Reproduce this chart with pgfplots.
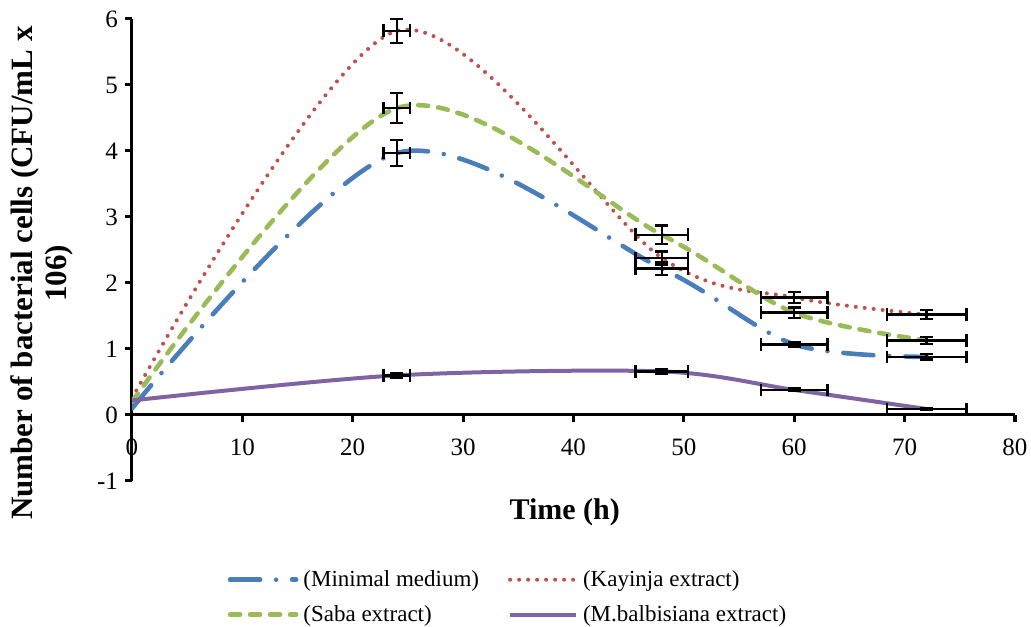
\documentclass[border=0pt]{standalone}
\usepackage{fontspec}
\setmainfont{Liberation Serif}
\usepackage{pgfplots}
\pgfplotsset{compat=1.18}

\definecolor{cblue}{RGB}{74,126,187}
\definecolor{cred}{RGB}{192,80,77}
\definecolor{cgreen}{RGB}{155,187,89}
\definecolor{cpurple}{RGB}{128,100,162}

\begin{document}
\begin{tikzpicture}
\begin{axis}[
  width=441.5pt, height=231pt, scale only axis,
  xmin=0, xmax=80, ymin=-1, ymax=6,
  axis x line=middle, axis y line=left,
  axis line style={-, line width=1.5pt, black},
  every inner x axis line/.append style={-},
  every outer y axis line/.append style={-},
  hide obscured x ticks=false, hide obscured y ticks=false,
  xtick={0,10,...,80}, ytick={-1,0,...,6},
  tick align=outside, major tick length=3.5pt,
  tick style={line width=1.5pt, black},
  /pgf/number format/assume math mode=true,
  ticklabel style={font=\fontsize{12.5}{14}\selectfont},
  xticklabel style={yshift=-5pt},
  xlabel={Time (h)},
  xlabel style={at={(axis description cs:0.49,0)}, anchor=center, yshift=-15.5pt,
    font=\fontsize{15}{17}\selectfont\bfseries},
  ylabel={Number of bacterial cells (CFU/mL x\\106)},
  ylabel style={at={(axis description cs:-0.102,0.45)}, anchor=center, rotate=0,
    align=center, font=\fontsize{15.5}{17}\selectfont\bfseries},
  legend columns=2,
  legend style={at={(axis description cs:0.4275,-0.175)}, anchor=north, draw=none,
    font=\fontsize{11.5}{13}\selectfont, row sep=4pt,
    /tikz/every even column/.append style={column sep=12pt},
    nodes={inner xsep=2.5pt}},
  legend cell align=left,
  legend image code/.code={\draw[#1] (0pt,0pt) -- (33pt,0pt);},
  error bars/error bar style={draw=black, solid, line width=1.2pt},
  error bars/error mark options={draw=black, solid, rotate=90, line width=1.2pt, mark size=3.2pt},
]

% smooth curves
\addplot[cblue, line width=2.3pt, line cap=round, smooth,
  dash pattern=on 15pt off 8pt on 0pt off 8pt]
  coordinates {(0,0.1) (24,3.97) (48,2.22) (60,1.07) (72,0.88)};
\addlegendentry{(Minimal medium)}
\addplot[cred, line width=2pt, line cap=round, smooth,
  dash pattern=on 0pt off 4.5pt]
  coordinates {(0,0.25) (24,5.82) (48,2.38) (60,1.78) (72,1.52)};
\addlegendentry{(Kayinja extract)}
\addplot[cgreen, line width=2.3pt, line cap=round, smooth,
  dash pattern=on 5pt off 5pt]
  coordinates {(0,0.2) (24,4.65) (48,2.73) (60,1.55) (72,1.13)};
\addlegendentry{(Saba extract)}
\addplot[cpurple, line width=2pt, smooth]
  coordinates {(0,0.22) (24,0.6) (48,0.66) (60,0.38) (72,0.09)};
\addlegendentry{(M.balbisiana extract)}

% error bars
\addplot[draw=none, mark=none, forget plot,
  error bars/.cd, x dir=both, x explicit, y dir=both, y explicit]
  coordinates {(24,3.97) +- (1.2,0.2) (48,2.22) +- (2.4,0.1)
               (60,1.07) +- (3,0.04) (72,0.88) +- (3.6,0.04)};
\addplot[draw=none, mark=none, forget plot,
  error bars/.cd, x dir=both, x explicit, y dir=both, y explicit]
  coordinates {(24,5.82) +- (1.2,0.18) (48,2.38) +- (2.4,0.1)
               (60,1.78) +- (3,0.08) (72,1.52) +- (3.6,0.07)};
\addplot[draw=none, mark=none, forget plot,
  error bars/.cd, x dir=both, x explicit, y dir=both, y explicit]
  coordinates {(24,4.65) +- (1.2,0.23) (48,2.73) +- (2.4,0.14)
               (60,1.55) +- (3,0.08) (72,1.13) +- (3.6,0.05)};
\addplot[draw=none, mark=none, forget plot,
  error bars/.cd, x dir=both, x explicit, y dir=both, y explicit]
  coordinates {(24,0.6) +- (1.2,0.03) (48,0.66) +- (2.4,0.03)
               (60,0.38) +- (3,0.02) (72,0.09) +- (3.6,0.01)};
\end{axis}
% fix the page to the reference's margins round the plot area
\pgfresetboundingbox
\path[use as bounding box] (current axis.south west) ++(-66pt,-73pt)
  rectangle ([xshift=8pt,yshift=9.5pt]current axis.north east);
\end{tikzpicture}
\end{document}
